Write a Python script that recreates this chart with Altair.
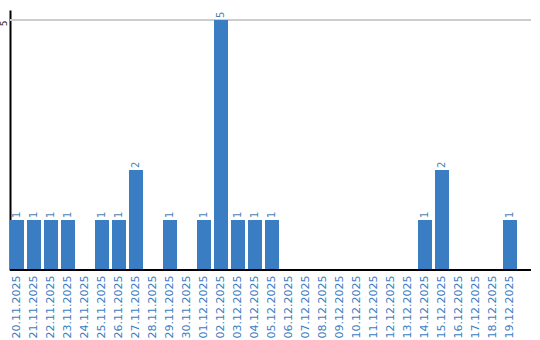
import altair as alt
import pandas as pd

dates = ["20.11.2025", "21.11.2025", "22.11.2025", "23.11.2025", "24.11.2025",
         "25.11.2025", "26.11.2025", "27.11.2025", "28.11.2025", "29.11.2025",
         "30.11.2025", "01.12.2025", "02.12.2025", "03.12.2025", "04.12.2025",
         "05.12.2025", "06.12.2025", "07.12.2025", "08.12.2025", "09.12.2025",
         "10.12.2025", "11.12.2025", "12.12.2025", "13.12.2025", "14.12.2025",
         "15.12.2025", "16.12.2025", "17.12.2025", "18.12.2025", "19.12.2025"]
counts = [1, 1, 1, 1, 0, 1, 1, 2, 0, 1,
          0, 1, 5, 1, 1, 1, 0, 0, 0, 0,
          0, 0, 0, 0, 1, 2, 0, 0, 0, 1]

df = pd.DataFrame({"date": dates, "count": counts})
df["label"] = df["count"].apply(lambda v: str(v) if v > 0 else "")

BAR = "#3a7dc3"
FONT = "DejaVu Sans"

x = alt.X("date:N", sort=dates, title=None,
          scale=alt.Scale(paddingInner=0.176, paddingOuter=0, range=[0, 507]),
          axis=alt.Axis(labelAngle=-90, labelAlign="right", labelBaseline="middle",
                        labelColor=BAR, labelFont=FONT, labelFontSize=11,
                        ticks=False, labelPadding=5, domain=False, grid=False,
                        labelOverlap=False))
y = alt.Y("count:Q", title=None,
          scale=alt.Scale(domain=[0, 5.2], nice=False),
          axis=alt.Axis(values=[5], labelAngle=-90, labelAlign="center",
                        labelBaseline="bottom", labelFont=FONT, labelFontSize=9,
                        labelColor="#222222", ticks=False, labelPadding=2,
                        labelOffset=3,
                        domainColor="black", domainWidth=2, grid=False))

base = alt.Chart(df)
grid = base.mark_rule(color="#cccccc", strokeWidth=1).encode(
    y=alt.datum(5), x=alt.value(0), x2=alt.value(521))
bars = base.mark_bar(color=BAR).encode(x=x, y=y)
labels = base.mark_text(angle=270, align="left", baseline="middle", dx=2,
                        font=FONT, fontSize=10, color="#4f7fb2").encode(
    x=alt.X("date:N", sort=dates), y="count:Q", text="label:N")
xaxis = base.mark_rule(color="black", strokeWidth=2).encode(
    y=alt.datum(0), x=alt.value(0), x2=alt.value(521))

chart = alt.layer(grid, bars, labels, xaxis).properties(
    width=521, height=260,
    autosize=alt.AutoSizeParams(type="none"),
    padding={"left": 10, "top": 10, "right": 9, "bottom": 70},
).configure_view(stroke=None)

chart.save("out.html", embed_options={"renderer": "svg", "actions": False})
